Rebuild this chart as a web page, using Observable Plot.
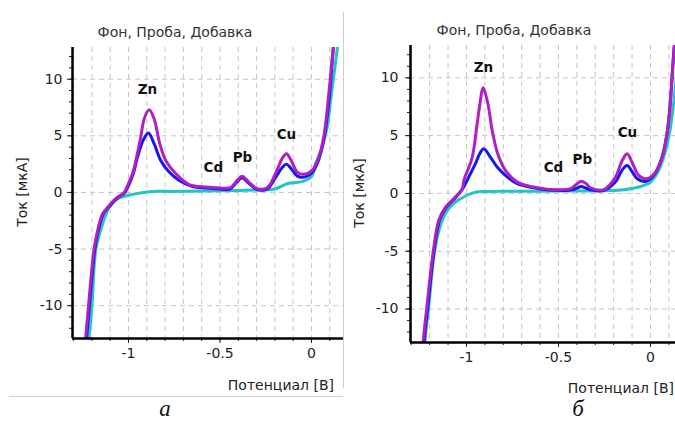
<!DOCTYPE html>
<html>
<head>
<meta charset="utf-8">
<script src="https://cdn.jsdelivr.net/npm/d3@7"></script>
<script src="https://cdn.jsdelivr.net/npm/@observablehq/plot@0.6"></script>
<style>
  html, body { margin: 0; padding: 0; background: #fff; }
  #root { position: relative; width: 675px; height: 421px; overflow: hidden; background: #fff; font-family: "DejaVu Sans", sans-serif; }
  .abs { position: absolute; white-space: nowrap; line-height: 1; }
  .title { font-size: 14px; color: #333; transform: translate(-50%, -50%); }
  .ylab { font-size: 14px; color: #222; transform: translate(-50%, -50%) rotate(-90deg); }
  .xlab { font-size: 14px; color: #222; transform: translate(-100%, -50%); }
  .cap { font-family: "Liberation Serif", serif; font-style: italic; font-size: 23px; line-height: 20px; color: #111; transform: translate(-50%, 0); }
</style>
</head>
<body>
<div id="root"></div>
<script>
// ---- data ----
const seriesNames = ["Фон", "Проба", "Добавка"];
const peakNames = ["Zn", "Cd", "Pb", "Cu"];
const yMajorTicks = [-10, -5, 0, 5, 10];
const xMajorTicks = [-1, -0.5, 0];
const xMinorTicks = [-1.3, -1.2, -1.1, -1, -0.9, -0.8, -0.7, -0.6, -0.5, -0.4, -0.3, -0.2, -0.1, 0, 0.1];
const yMinorTicks = [-12, -11, -10, -9, -8, -7, -6, -5, -4, -3, -2, -1, 0, 1, 2, 3, 4, 5, 6, 7, 8, 9, 10, 11, 12];

// panel а
const aBgE  = [-1.225, -1.215, -1.2, -1.178, -1.142, -1.105, -1.06, -1.005, -0.94, -0.869, -0.76, -0.6, -0.4, -0.25, -0.2, -0.133, -0.1, -0.042, 0.0, 0.022, 0.058, 0.086, 0.104, 0.142, 0.15];
const aBgI  = [-14, -12.65, -10.1, -5, -2.8, -1.3, -0.56, -0.27, -0.06, 0.09, 0.09, 0.12, 0.18, 0.24, 0.3, 0.77, 0.85, 1.0, 1.4, 2.5, 4.0, 5.8, 8.1, 12.8, 14];
const aSmpE = [-1.235, -1.228, -1.214, -1.184, -1.165, -1.138, -1.1, -1.065, -1.02, -1.0, -0.975, -0.951, -0.92, -0.891, -0.86, -0.823, -0.778, -0.723, -0.65, -0.578, -0.5, -0.443, -0.406, -0.379, -0.342, -0.297, -0.242, -0.197, -0.16, -0.137, -0.111, -0.078, -0.06, -0.03, 0.006, 0.042, 0.069, 0.085, 0.095, 0.125];
const aSmpI = [-14, -12.65, -10.1, -5, -3.4, -1.9, -1.15, -0.55, 0, 0.6, 1.6, 3.1, 4.6, 5.25, 4.3, 2.8, 1.8, 1.06, 0.53, 0.38, 0.3, 0.32, 0.95, 1.3, 0.8, 0.25, 0.3, 1.3, 2.2, 2.5, 2.1, 1.45, 1.35, 1.4, 1.8, 3.0, 4.8, 6.6, 8.0, 14];
const aAddE = [-1.24, -1.233, -1.219, -1.188, -1.169, -1.142, -1.105, -1.07, -1.024, -1.0, -0.975, -0.96, -0.933, -0.914, -0.887, -0.86, -0.829, -0.796, -0.741, -0.668, -0.578, -0.5, -0.443, -0.406, -0.379, -0.342, -0.297, -0.242, -0.197, -0.16, -0.137, -0.111, -0.078, -0.042, 0.004, 0.04, 0.067, 0.082, 0.091, 0.127];
const aAddI = [-14, -12.65, -10.1, -5, -3.4, -1.9, -1.15, -0.55, 0, 0.8, 1.8, 2.8, 4.9, 6.5, 7.3, 6.5, 4.3, 2.8, 1.65, 0.7, 0.47, 0.4, 0.42, 1.06, 1.42, 0.91, 0.33, 0.42, 1.65, 3.0, 3.42, 2.83, 1.8, 1.6, 1.95, 3.1, 4.9, 6.7, 8.1, 14];
const aPeakE = [-0.896, -0.536, -0.377, -0.137];
const aPeakI = [9.1, 2.2, 3.1, 5.1];

// panel б
const bBgE  = [-1.228, -1.223, -1.205, -1.174, -1.138, -1.096, -1.033, -0.951, -0.888, -0.7, -0.5, -0.3, -0.145, -0.054, 0.0, 0.045, 0.082, 0.109, 0.14];
const bBgI  = [-14, -12.3, -9.85, -5.1, -2.6, -1.3, -0.46, 0.11, 0.17, 0.18, 0.2, 0.22, 0.32, 0.6, 0.98, 1.99, 3.7, 5.74, 10];
const bSmpE = [-1.235, -1.227, -1.212, -1.177, -1.146, -1.11, -1.065, -1.02, -0.988, -0.951, -0.928, -0.906, -0.87, -0.833, -0.788, -0.724, -0.634, -0.55, -0.435, -0.4, -0.377, -0.35, -0.32, -0.254, -0.19, -0.155, -0.127, -0.1, -0.072, -0.027, 0.02, 0.06, 0.088, 0.103, 0.13, 0.14];
const bSmpI = [-14, -12.3, -10.1, -5.1, -2.3, -1.2, -0.46, 0.4, 1.41, 2.57, 3.44, 3.87, 3.14, 2.28, 1.56, 0.84, 0.49, 0.3, 0.3, 0.45, 0.6, 0.45, 0.3, 0.25, 1.0, 2.0, 2.42, 1.9, 1.27, 1.04, 1.6, 3.0, 5.0, 7.0, 12.8, 14];
const bAddE = [-1.24, -1.232, -1.217, -1.181, -1.15, -1.114, -1.069, -1.023, -1.014, -0.969, -0.942, -0.924, -0.91, -0.884, -0.86, -0.83, -0.788, -0.724, -0.634, -0.55, -0.435, -0.405, -0.377, -0.35, -0.326, -0.254, -0.19, -0.155, -0.127, -0.1, -0.064, -0.018, 0.027, 0.064, 0.09, 0.105, 0.13, 0.14];
const bAddI = [-14, -12.3, -10.1, -5.1, -2.3, -1.2, -0.46, 0.4, 1.13, 3.1, 6.0, 8.05, 9.15, 7.8, 5.45, 3.44, 2.0, 0.98, 0.55, 0.35, 0.41, 0.75, 1.06, 0.85, 0.49, 0.32, 1.41, 2.8, 3.44, 2.7, 1.56, 1.27, 1.84, 3.14, 5.17, 7.2, 12.8, 14];
const bPeakE = [-0.908, -0.527, -0.37, -0.125];
const bPeakI = [10.9, 2.2, 2.9, 5.3];

const colors = ["#22c4c4", "#1616ee", "#b01ec4"];
const titleText = "Фон, Проба, Добавка";
const yLabelText = "Ток [мкА]";
const xLabelText = "Потенциал [В]";
const captions = ["а", "б"];

// ---- build ----
const FONT = "DejaVu Sans, sans-serif";
function toRows(E, I, name) { return E.map((e, i) => ({E: e, I: I[i], s: name})); }

function panel(cfg) {
  const series = [
    toRows(cfg.bg[0], cfg.bg[1], seriesNames[0]),
    toRows(cfg.smp[0], cfg.smp[1], seriesNames[1]),
    toRows(cfg.add[0], cfg.add[1], seriesNames[2])
  ];
  const peaks = peakNames.map((n, i) => ({n, E: cfg.peaks[0][i], I: cfg.peaks[1][i]}));
  return Plot.plot({
    width: cfg.width, height: 400,
    marginLeft: cfg.ml, marginRight: 0, marginTop: cfg.mt, marginBottom: 400 - cfg.bottom,
    style: {fontFamily: FONT, fontSize: "14px", color: "#222", background: "transparent", overflow: "visible"},
    x: {domain: cfg.xd, axis: null},
    y: {domain: [-12.9, 12.8], axis: null},
    marks: [
      Plot.gridX(xMinorTicks, {stroke: "#c4c4c4", strokeOpacity: 1, strokeDasharray: "5,4"}),
      Plot.gridY(yMajorTicks, {stroke: "#c4c4c4", strokeOpacity: 1, strokeDasharray: "5,4"}),
      ...series.map((rows, k) => Plot.line(rows, {x: "E", y: "I", stroke: colors[k], strokeWidth: 3, curve: "catmull-rom", clip: true})),
      Plot.text(peaks, {x: "E", y: "I", text: "n", fontWeight: "bold", fontSize: 13.5, fill: "#111"}),
      Plot.axisY({ticks: yMinorTicks, tickSize: 3, tickFormat: () => "", label: null, stroke: "#222"}),
      Plot.axisY({ticks: yMajorTicks, tickSize: 5, tickPadding: cfg.typ, tickFormat: d => String(d), label: null, fontSize: 14, stroke: "#222", fill: "#222"}),
      Plot.axisX({ticks: xMinorTicks.filter(t => t >= cfg.xd[0] && t <= cfg.xd[1]), tickSize: 3, tickFormat: () => "", label: null, stroke: "#222"}),
      Plot.axisX({ticks: xMajorTicks, tickSize: 5, tickPadding: 5, tickFormat: d => String(d), label: null, fontSize: 14, stroke: "#222", fill: "#222"}),
      Plot.ruleX([cfg.xd[0]], {stroke: "#000", strokeWidth: 2.5}),
      Plot.ruleY([-12.9], {stroke: "#000", strokeWidth: 2.5})
    ]
  });
}

const root = document.getElementById("root");
function place(el, left, top) { el.style.position = "absolute"; el.style.left = left + "px"; el.style.top = top + "px"; root.appendChild(el); }
function label(cls, text, x, y) { const d = document.createElement("div"); d.className = "abs " + cls; d.textContent = text; place(d, x, y); }

const pa = panel({width: 343, ml: 72, mt: 47, bottom: 338, xd: [-1.306, 0.175], typ: 5,
  bg: [aBgE, aBgI], smp: [aSmpE, aSmpI], add: [aAddE, aAddI], peaks: [aPeakE, aPeakI]});
place(pa, 0, 0);
const pb = panel({width: 330, ml: 65, mt: 45, bottom: 342, xd: [-1.304, 0.136], typ: 7,
  bg: [bBgE, bBgI], smp: [bSmpE, bSmpI], add: [bAddE, bAddI], peaks: [bPeakE, bPeakI]});
place(pb, 345, 0);

// frame decorations of the source image
const vline = document.createElement("div");
vline.style.cssText = "width:1px;height:376px;background:#cfcfcf;";
place(vline, 343, 12);
const hline = document.createElement("div");
hline.style.cssText = "width:334px;height:1px;background:#cfcfcf;";
place(hline, 9, 396);

label("title", titleText, 175, 32);
label("title", titleText, 514, 30);
label("ylab", yLabelText, 22, 192);
label("ylab", yLabelText, 359, 193);
label("xlab", xLabelText, 334, 385);
label("xlab", xLabelText, 674, 388);
label("cap", captions[0], 165, 399);
label("cap", captions[1], 578, 399);
</script>
</body>
</html>
